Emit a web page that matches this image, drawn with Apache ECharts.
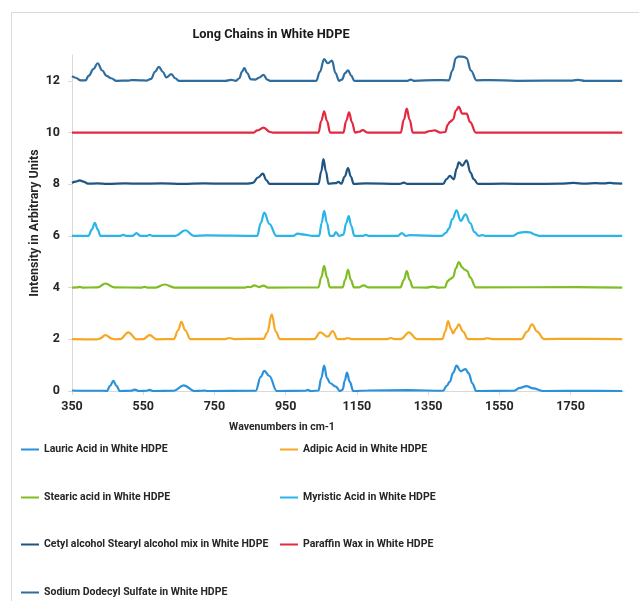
<!DOCTYPE html>
<html>
<head>
<meta charset="utf-8">
<script src="https://cdn.jsdelivr.net/npm/echarts@6/dist/echarts.min.js"></script>
<style>
html,body{margin:0;padding:0;background:#fff;}
#chart{width:639px;height:601px;}
</style>
</head>
<body>
<div id="chart"></div>
<script>
var xTicks = [350, 550, 750, 950, 1150, 1350, 1550, 1750];
var yTicks = [0, 2, 4, 6, 8, 10, 12];

var seriesNames = [
  'Lauric Acid in White HDPE',
  'Adipic Acid in White HDPE',
  'Stearic acid in White HDPE',
  'Myristic Acid in White HDPE',
  'Cetyl alcohol Stearyl alcohol mix in White HDPE',
  'Paraffin Wax in White HDPE',
  'Sodium Dodecyl Sulfate in White HDPE'
];
var seriesColors = ['#2a91dc', '#f7a823', '#80bd24', '#2ab4e8', '#1f5583', '#e3283f', '#2f6d9e'];

var lauric = [[350,0.02],[380,0.01],[440,0.01],[448,0],[457,0.2],[466,0.39],[475,0.2],[484,0],[515,0.01],[526,0.05],[538,0],[560,0.01],[568,0.04],[578,0],[636,0.01],[664,0.22],[694,0],[715,0.01],[722,0.02],[730,0],[866,0.01],[880,0.55],[890,0.78],[904,0.58],[925,0],[1005,0.01],[1012,0.04],[1020,0],[1042,0.02],[1050,0.5],[1058,0.98],[1066,0.5],[1075,0.3],[1091,0.17],[1102,0],[1110,0.05],[1116,0.4],[1122,0.71],[1130,0.35],[1140,0],[1180,0.02],[1296,0.03],[1392,0.01],[1402,0.2],[1411,0.36],[1420,0.7],[1430,0.98],[1441,0.77],[1455,0.85],[1464,0.68],[1474,0.3],[1485,0],[1590,0.01],[1608,0.12],[1626,0.19],[1645,0.1],[1674,0],[1800,0.01],[1895,0]];
var adipic = [[350,2.01],[420,2.0],[428,2.03],[444,2.16],[462,2.03],[472,2.0],[486,2.01],[508,2.27],[532,2.0],[550,2.01],[568,2.16],[588,2.0],[636,2.01],[648,2.35],[657,2.68],[668,2.35],[682,2.01],[780,2.01],[792,2.05],[805,2.01],[888,2.02],[898,2.25],[911,2.97],[922,2.3],[934,2.01],[1030,2.01],[1047,2.27],[1068,2.1],[1082,2.32],[1096,2.01],[1115,2.01],[1124,2.05],[1135,2.01],[1235,2.01],[1245,2.05],[1255,2.01],[1274,2.01],[1296,2.27],[1318,2.01],[1390,2.01],[1398,2.3],[1406,2.7],[1414,2.4],[1420,2.23],[1428,2.4],[1436,2.58],[1448,2.3],[1462,2.01],[1505,2.01],[1516,2.04],[1530,2.01],[1612,2.01],[1628,2.3],[1642,2.58],[1656,2.3],[1675,2.01],[1760,2.02],[1895,2.01]];
var stearic = [[350,4.0],[365,4.01],[372,4.03],[380,4.0],[422,4.01],[444,4.16],[468,4.01],[545,4.0],[554,4.03],[562,4.0],[585,4.0],[610,4.12],[638,4.0],[835,4.0],[844,4.03],[852,4.02],[862,4.09],[875,4.02],[888,4.08],[900,4.0],[1042,4.01],[1050,4.4],[1058,4.84],[1066,4.4],[1074,4.01],[1110,4.01],[1117,4.3],[1125,4.69],[1133,4.3],[1142,4.01],[1155,4.01],[1169,4.09],[1183,4.01],[1272,4.01],[1282,4.3],[1290,4.64],[1298,4.3],[1307,4.01],[1345,4.0],[1362,4.04],[1380,4.0],[1397,4.01],[1405,4.25],[1411,4.32],[1420,4.4],[1428,4.75],[1436,4.99],[1446,4.78],[1452,4.7],[1460,4.64],[1468,4.4],[1484,4.01],[1767,4.02],[1895,4.0]];
var myristic = [[350,6.0],[396,6.0],[406,6.25],[414,6.51],[422,6.25],[430,6.0],[484,6.0],[494,6.04],[504,6.0],[520,6.0],[531,6.11],[542,6.0],[560,6.0],[568,6.04],[576,6.0],[640,6.0],[668,6.22],[692,6.0],[727,6.02],[870,6.0],[880,6.5],[890,6.9],[904,6.47],[924,6.0],[970,6.0],[984,6.09],[1002,6.05],[1025,6.0],[1044,6.0],[1051,6.5],[1058,6.97],[1066,6.5],[1074,6.0],[1084,6.0],[1091,6.15],[1100,6.0],[1112,6.05],[1120,6.5],[1127,6.77],[1134,6.4],[1143,6.0],[1165,6.0],[1175,6.04],[1185,6.0],[1265,6.0],[1276,6.11],[1287,6.0],[1299,6.03],[1388,6.0],[1400,6.12],[1408,6.28],[1418,6.65],[1430,6.99],[1441,6.58],[1455,6.83],[1468,6.5],[1480,6.15],[1492,6.0],[1502,6.03],[1512,6.0],[1588,6.0],[1605,6.12],[1620,6.15],[1635,6.14],[1650,6.05],[1662,6.0],[1895,6.0]];
var cetyl = [[350,8.05],[360,8.1],[372,8.15],[382,8.1],[395,8.02],[420,8.03],[450,8.01],[500,8.03],[540,8.02],[600,8.03],[660,8.01],[720,8.03],[780,8.02],[840,8.02],[858,8.05],[872,8.26],[886,8.41],[896,8.15],[905,8.01],[1042,8.01],[1050,8.5],[1056,8.97],[1063,8.5],[1070,8.02],[1090,8.04],[1098,8.09],[1106,8.02],[1116,8.3],[1125,8.62],[1133,8.3],[1141,8.01],[1175,8.03],[1270,8.01],[1282,8.06],[1292,8.01],[1392,8.01],[1402,8.2],[1411,8.32],[1422,8.19],[1430,8.6],[1436,8.85],[1446,8.72],[1458,8.92],[1469,8.45],[1478,8.2],[1490,8.01],[1560,8.02],[1640,8.01],[1720,8.02],[1758,8.05],[1790,8.02],[1820,8.04],[1845,8.03],[1860,8.05],[1875,8.03],[1895,8.02]];
var paraffin = [[350,10.0],[860,10.0],[870,10.08],[888,10.19],[906,10.02],[914,10.0],[1042,10.0],[1050,10.45],[1058,10.82],[1066,10.45],[1075,10.0],[1112,10.0],[1120,10.45],[1128,10.78],[1136,10.4],[1145,10.0],[1156,10.03],[1166,10.09],[1180,10.0],[1273,10.0],[1282,10.5],[1290,10.93],[1298,10.5],[1307,10.0],[1340,10.0],[1355,10.06],[1368,10.08],[1385,10.0],[1398,10.02],[1405,10.3],[1411,10.41],[1420,10.5],[1428,10.85],[1436,10.99],[1446,10.73],[1458,10.73],[1468,10.4],[1484,10.0],[1895,10.0]];
var sds = [[350,12.18],[360,12.12],[375,12.02],[388,12.02],[397,12.2],[410,12.45],[422,12.68],[435,12.4],[447,12.19],[460,12.1],[475,12.0],[510,12.01],[517,12.03],[540,12.02],[560,12.01],[572,12.08],[583,12.35],[594,12.54],[605,12.35],[615,12.13],[629,12.26],[640,12.1],[650,12.0],[780,12.0],[797,12.04],[810,12.0],[820,12.1],[827,12.35],[834,12.49],[842,12.3],[852,12.06],[865,12.05],[875,12.12],[888,12.23],[898,12.05],[906,12.0],[1036,12.0],[1046,12.35],[1058,12.84],[1068,12.68],[1080,12.78],[1090,12.3],[1100,12.0],[1108,12.05],[1117,12.3],[1125,12.41],[1134,12.2],[1143,12.0],[1292,12.0],[1301,12.05],[1310,12.0],[1371,12.03],[1408,12.02],[1418,12.4],[1428,12.88],[1435,12.94],[1450,12.93],[1458,12.88],[1470,12.4],[1486,12.02],[1525,12.03],[1600,12.0],[1755,12.01],[1772,12.04],[1790,12.0],[1895,12.0]];

var seriesData = [lauric, adipic, stearic, myristic, cetyl, paraffin, sds];

var FONT = 'Roboto, sans-serif';
var chart = echarts.init(document.getElementById('chart'), null, {renderer: 'canvas'});

var legendPos = [[21,444],[280,444],[21,492],[280,492],[21,539],[280,539],[21,587]];
var legends = seriesNames.map(function(n, i){
  return {
    data: [n], left: legendPos[i][0], top: legendPos[i][1], padding: 0,
    icon: 'rect', itemWidth: 18, itemHeight: 2, selectedMode: false,
    textStyle: {fontFamily: FONT, fontWeight: 'bold', fontSize: 10.5, color: '#262626'}
  };
});

var option = {
  backgroundColor: '#ffffff',
  animation: false,
  title: {
    text: 'Long Chains in White HDPE', left: 266, top: 23, textAlign: 'center',
    textStyle: {fontFamily: FONT, fontWeight: 'bold', fontSize: 12.8, color: '#1a1a1a'}
  },
  graphic: [{
    type: 'rect', shape: {x: 11.5, y: 12.5, width: 700, height: 700},
    style: {fill: 'none', stroke: '#d9d9d9', lineWidth: 1}, silent: true, z: -1
  }],
  legend: legends,
  grid: {left: 72, top: 55, right: 15, bottom: 210, containLabel: false},
  xAxis: {
    type: 'value', min: 350, max: 1900, interval: 200,
    name: 'Wavenumbers in cm-1', nameLocation: 'middle', nameGap: 31, nameMoveOverlap: false,
    nameTextStyle: {fontFamily: FONT, fontWeight: 'bold', fontSize: 10.5, color: '#262626', padding: [0, 132, 0, 0]},
    axisLine: {show: true, lineStyle: {color: '#d9d9d9', width: 1}},
    axisTick: {show: true, length: 4, lineStyle: {color: '#d9d9d9'}, customValues: xTicks},
    axisLabel: {customValues: xTicks, margin: 9, fontFamily: FONT, fontWeight: 'bold', fontSize: 12.5, color: '#262626',
      formatter: function(v){ return String(v); }},
    splitLine: {show: false}
  },
  yAxis: {
    type: 'value', min: 0, max: 13, interval: 2,
    name: 'Intensity in Arbitrary Units', nameLocation: 'middle', nameGap: 31, nameRotate: 90, nameMoveOverlap: false,
    nameTextStyle: {fontFamily: FONT, fontWeight: 'bold', fontSize: 12.5, color: '#262626'},
    axisLine: {show: true, lineStyle: {color: '#d9d9d9', width: 1}},
    axisTick: {show: true, length: 4, lineStyle: {color: '#d9d9d9'}, customValues: yTicks},
    axisLabel: {customValues: yTicks, margin: 12, fontFamily: FONT, fontWeight: 'bold', fontSize: 12.5, color: '#262626'},
    splitLine: {show: false}
  },
  series: seriesData.map(function(d, i){
    return {
      name: seriesNames[i], type: 'line', data: d, showSymbol: false, symbol: 'none',
      smooth: 0.4, smoothMonotone: 'x', z: 2 + i,
      lineStyle: {color: seriesColors[i], width: 2.2},
      itemStyle: {color: seriesColors[i]}
    };
  })
};
chart.setOption(option);
</script>
</body>
</html>
